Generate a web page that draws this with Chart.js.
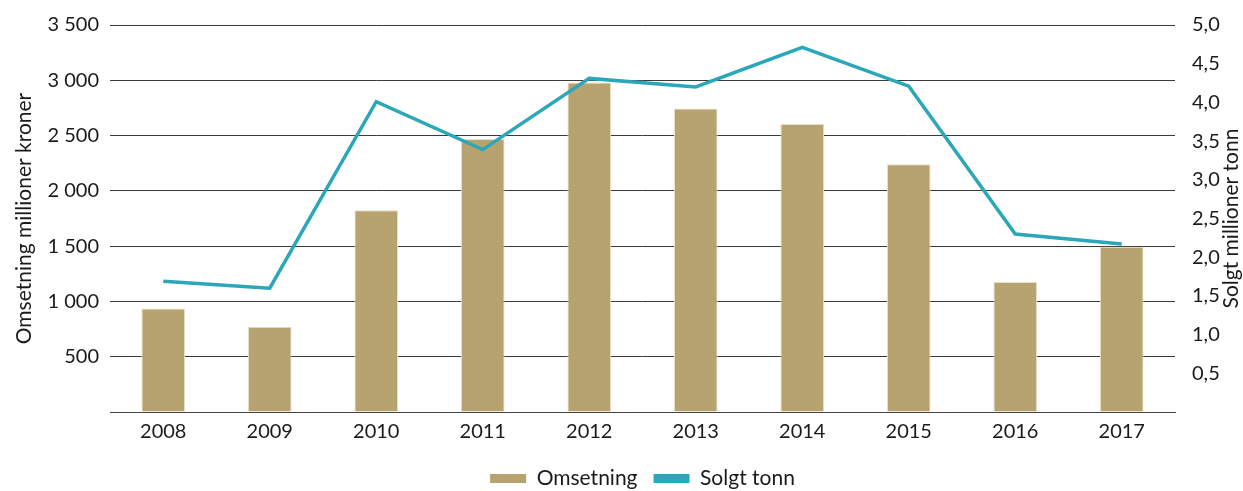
<!DOCTYPE html>
<html lang="no">
<head>
<meta charset="UTF-8">
<title>Omsetning og solgt tonn 2008-2017</title>
<script src="https://cdn.jsdelivr.net/npm/chart.js@4"></script>
<style>
  html, body { margin: 0; padding: 0; background: #fff; }
  #wrap { width: 1243px; height: 491px; position: relative; }
</style>
</head>
<body>
<div id="wrap"><canvas id="chart"></canvas></div>
<script>
// data
const years = ['2008', '2009', '2010', '2011', '2012', '2013', '2014', '2015', '2016', '2017'];
const omsetning = [935, 770, 1825, 2470, 2980, 2745, 2605, 2240, 1175, 1495];   // millioner kroner
const solgtTonn = [1.69, 1.60, 4.01, 3.39, 4.31, 4.20, 4.71, 4.21, 2.30, 2.17]; // millioner tonn

const barColor = '#b7a370';
const lineColor = '#2ca6b9';
const textColor = '#1a1a1a';
const fontFamily = 'Lato, "Open Sans", sans-serif';

// right axis title reads bottom-to-top, so draw it ourselves
const rightTitle = {
  id: 'rightTitle',
  afterDraw(chart) {
    const ctx = chart.ctx, area = chart.chartArea;
    ctx.save();
    ctx.translate(1231, (area.top + area.bottom) / 2);
    ctx.rotate(-Math.PI / 2);
    ctx.fillStyle = textColor;
    ctx.font = '21px ' + fontFamily;
    ctx.textAlign = 'center';
    ctx.textBaseline = 'middle';
    ctx.fillText('Solgt millioner tonn', 0, 0);
    ctx.restore();
  }
};

// keep the legend box short so the plot area reaches down like the original,
// and nudge it a bit right of the page centre
const legendFix = {
  id: 'legendFix',
  beforeLayout(chart) {
    const lg = chart.legend;
    if (lg && !lg._patched) {
      const fit = lg.fit;
      lg.fit = function () { fit.call(this); this.height = 39; };
      lg._patched = true;
    }
  },
  afterLayout(chart) {
    if (chart.legend) chart.legend.left += 42;
  }
};

new Chart(document.getElementById('chart'), {
  data: {
    labels: years,
    datasets: [
      {
        type: 'line',
        label: 'Solgt tonn',
        data: solgtTonn,
        yAxisID: 'y2',
        borderColor: lineColor,
        backgroundColor: lineColor,
        borderWidth: 3.5,
        pointRadius: 0,
        tension: 0,
        order: 0
      },
      {
        type: 'bar',
        label: 'Omsetning',
        data: omsetning,
        yAxisID: 'y',
        backgroundColor: barColor,
        borderColor: '#e9e0c8',
        borderWidth: 1,
        barPercentage: 0.41,
        categoryPercentage: 1,
        order: 1
      }
    ]
  },
  options: {
    responsive: true,
    maintainAspectRatio: false,
    animation: false,
    layout: { padding: { top: 25, bottom: 0, left: 0, right: 0 } },
    plugins: {
      tooltip: { enabled: false },
      legend: {
        position: 'bottom',
        reverse: true,
        labels: {
          color: textColor,
          font: { family: fontFamily, size: 21 },
          boxWidth: 36,
          boxHeight: 9,
          padding: 16,
          generateLabels(chart) {
            const items = Chart.defaults.plugins.legend.labels.generateLabels(chart);
            items.forEach(it => {
              const ds = chart.data.datasets[it.datasetIndex];
              it.fillStyle = ds.type === 'line' ? ds.borderColor : ds.backgroundColor;
              it.strokeStyle = it.fillStyle;
              it.lineWidth = 0;
            });
            return items;
          }
        }
      }
    },
    scales: {
      x: {
        grid: { display: false },
        border: { display: true, color: '#444', width: 1 },
        ticks: { color: textColor, font: { family: fontFamily, size: 20 }, padding: 0 },
        afterFit(scale) { scale.height = 40; }
      },
      y: {
        position: 'left',
        min: 0,
        max: 3500,
        grid: { color: '#3a3a3a', lineWidth: 1, drawTicks: false },
        border: { display: false },
        ticks: {
          stepSize: 500,
          padding: 11,
          color: textColor,
          font: { family: fontFamily, size: 20 },
          callback: v => v === 0 ? '' : String(v).replace(/\B(?=(\d{3})+(?!\d))/g, ' ')
        },
        title: {
          display: true,
          text: 'Omsetning millioner kroner',
          color: textColor,
          font: { family: fontFamily, size: 21 },
          padding: { top: 12, bottom: 0 }
        },
        afterFit(scale) { scale.width = 110; }
      },
      y2: {
        position: 'right',
        min: 0,
        max: 5,
        grid: { display: false },
        border: { display: false },
        ticks: {
          stepSize: 0.5,
          padding: 9,
          color: textColor,
          font: { family: fontFamily, size: 20 },
          callback: v => v === 0 ? '' : v.toFixed(1).replace('.', ',')
        },
        afterFit(scale) { scale.width = 68; }
      }
    }
  },
  plugins: [rightTitle, legendFix]
});
</script>
</body>
</html>
